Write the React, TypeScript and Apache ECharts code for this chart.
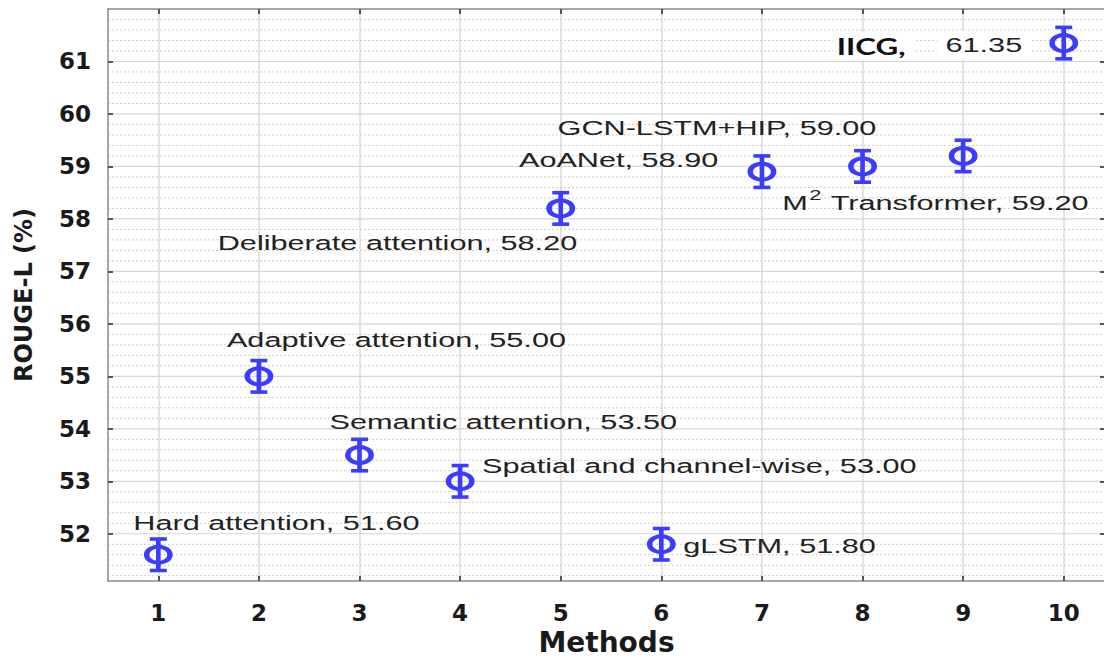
import { useEffect, useRef } from "react";
import * as echarts from "echarts";

// Method index on the x axis and its ROUGE-L score (%)
const methodIds = [1, 2, 3, 4, 5, 6, 7, 8, 9, 10];
const methodNames = [
  "Hard attention",
  "Adaptive attention",
  "Semantic attention",
  "Spatial and channel-wise",
  "Deliberate attention",
  "gLSTM",
  "AoANet",
  "GCN-LSTM+HIP",
  "M² Transformer",
  "IICG",
];
const rougeL = [51.6, 55.0, 53.5, 53.0, 58.2, 51.8, 58.9, 59.0, 59.2, 61.35];
const errorHalf = [0.3, 0.3, 0.3, 0.3, 0.3, 0.3, 0.3, 0.3, 0.3, 0.3];

const xTicks = [1, 2, 3, 4, 5, 6, 7, 8, 9, 10];
const yTicks = [52, 53, 54, 55, 56, 57, 58, 59, 60, 61];

// Label placement relative to each marker, in pixels (text left edge, text middle)
const labelOffsets = [
  [-25, -34],
  [-32, -39],
  [-30, -36],
  [22, -18],
  [-343, 32],
  [22, -1],
  [-243, -14],
  [-305, -41],
  [-181, 44],
  [-231, 3],
];
// The highlighted method shows its score in a separate box
const highlightIndex = 9;
const highlightValueOffset = [-127, 2];

const X_MIN = 0.5;
const X_MAX = 10.41;
const Y_MIN = 51.1;
const Y_MAX = 62;
const STRETCH = 1.46;
const BLUE = "#3c3cff";
const TEXT_FONT = "'Liberation Sans', Arial, sans-serif";
const TICK_FONT = "'DejaVu Sans', sans-serif";

// Horizontal grid lines: solid at each integer, dotted every 0.2 in between
const majorGrid = yTicks.slice();
const minorGrid: number[] = [];
for (let k = Math.ceil(Y_MIN * 5); k < Y_MAX * 5; k++) {
  if (k % 5 !== 0) minorGrid.push(k / 5);
}

// Turn a "²" in a label into a raised rich-text token
function labelText(name: string, value: number) {
  const full = `${name}, ${value.toFixed(2)}`;
  const parts = full.split("²");
  if (parts.length === 1) return `{t|${full}}`;
  return parts.map((p) => `{t|${p}}`).join("{sup|2}");
}

export default function App() {
  const ref = useRef<HTMLDivElement>(null);

  useEffect(() => {
    if (!ref.current) return;
    const chart = echarts.init(ref.current, undefined, { renderer: "svg" });

    const axisLine = { show: true, lineStyle: { color: "#8a8a8a", width: 1.5 } };
    const tickStyle = { color: "#555", width: 2 };

    const gridRender = (dashed: boolean) => (params: any, api: any) => {
      const cs = params.coordSys;
      const py = api.coord([X_MIN, api.value(1)])[1];
      return {
        type: "line",
        silent: true,
        shape: { x1: cs.x, y1: py, x2: cs.x + cs.width, y2: py },
        style: dashed
          ? { stroke: "#cdcdcd", lineWidth: 1, lineDash: [2, 2] }
          : { stroke: "#d6d6d6", lineWidth: 1.2 },
      };
    };

    const pointData = methodIds.map((x, i) => [x, rougeL[i], errorHalf[i], i]);

    const renderPoint = (params: any, api: any) => {
      const x = api.value(0);
      const y = api.value(1);
      const e = api.value(2);
      const i = api.value(3);
      const [cx, cy] = api.coord([x, y]);
      const top = api.coord([x, y + e])[1] - cy;
      const bottom = api.coord([x, y - e])[1] - cy;
      const capHalf = 5.8;
      const glyph = {
        type: "group",
        x: cx,
        y: cy,
        scaleX: STRETCH,
        children: [
          {
            type: "line",
            shape: { x1: 0, y1: top, x2: 0, y2: bottom },
            style: { stroke: BLUE, lineWidth: 3.2 },
          },
          {
            type: "line",
            shape: { x1: -capHalf, y1: top, x2: capHalf, y2: top },
            style: { stroke: BLUE, lineWidth: 3.6 },
          },
          {
            type: "line",
            shape: { x1: -capHalf, y1: bottom, x2: capHalf, y2: bottom },
            style: { stroke: BLUE, lineWidth: 3.6 },
          },
          {
            type: "circle",
            shape: { cx: 0, cy: 0, r: 8 },
            style: { stroke: BLUE, lineWidth: 3.8, fill: "none" },
          },
        ],
      };
      const [dx, dy] = labelOffsets[i];
      const children: any[] = [glyph];
      if (i === highlightIndex) {
        children.push({
          type: "text",
          x: cx + dx,
          y: cy + dy,
          scaleX: 1.36,
          style: {
            text: methodNames[i] + ",",
            fill: "#111",
            fontFamily: "Lato, 'Open Sans', sans-serif",
            fontWeight: "bold",
            fontSize: 23,
            align: "left",
            verticalAlign: "middle",
            backgroundColor: "#ffffff",
            padding: [3, 6, 3, 3],
          },
        });
        children.push({
          type: "text",
          x: cx + highlightValueOffset[0],
          y: cy + highlightValueOffset[1],
          scaleX: STRETCH,
          style: {
            text: rougeL[i].toFixed(2),
            fill: "#222",
            fontFamily: TEXT_FONT,
            fontSize: 21,
            align: "left",
            verticalAlign: "middle",
            backgroundColor: "#ffffff",
            padding: [4, 6, 4, 6],
          },
        });
      } else {
        children.push({
          type: "text",
          x: cx + dx,
          y: cy + dy,
          scaleX: STRETCH,
          style: {
            text: labelText(methodNames[i], rougeL[i]),
            align: "left",
            verticalAlign: "middle",
            rich: {
              t: {
                fill: "#222",
                fontFamily: TEXT_FONT,
                fontSize: 21,
                lineHeight: 26,
                verticalAlign: "bottom",
              },
              sup: {
                fill: "#222",
                fontFamily: TEXT_FONT,
                fontSize: 15,
                lineHeight: 26,
                verticalAlign: "top",
                padding: [0, 1, 0, 1],
              },
            },
          },
        });
      }
      return { type: "group", children };
    };

    chart.setOption({
      animation: false,
      backgroundColor: "#ffffff",
      grid: {
        left: 108,
        right: -1,
        top: 9,
        bottom: 77,
        outerBoundsMode: "none",
      },
      xAxis: [
        {
          type: "value",
          min: X_MIN,
          max: X_MAX,
          position: "bottom",
          name: "Methods",
          nameLocation: "middle",
          nameGap: 45,
          nameTextStyle: {
            fontFamily: TICK_FONT,
            fontWeight: "bold",
            fontSize: 28,
            color: "#1a1a1a",
          },
          axisLine,
          axisTick: { show: true, inside: true, length: 5, lineStyle: tickStyle, customValues: xTicks },
          axisLabel: {
            customValues: xTicks,
            margin: 20,
            fontFamily: TICK_FONT,
            fontWeight: "bold",
            fontSize: 23,
            color: "#1a1a1a",
          },
          splitLine: { show: true, lineStyle: { color: "#e4e4e4", width: 2 } },
        },
        {
          type: "value",
          min: X_MIN,
          max: X_MAX,
          position: "top",
          axisLine,
          axisTick: { show: true, inside: true, length: 5, lineStyle: tickStyle, customValues: xTicks },
          axisLabel: { show: false },
          splitLine: { show: false },
        },
      ],
      yAxis: [
        {
          type: "value",
          min: Y_MIN,
          max: Y_MAX,
          position: "left",
          name: "ROUGE-L (%)",
          nameLocation: "middle",
          nameGap: 72,
          nameTextStyle: {
            fontFamily: TICK_FONT,
            fontWeight: "bold",
            fontSize: 24,
            color: "#1a1a1a",
          },
          axisLine,
          axisTick: { show: true, inside: true, length: 5, lineStyle: tickStyle, customValues: yTicks },
          axisLabel: {
            customValues: yTicks,
            margin: 17,
            fontFamily: TICK_FONT,
            fontWeight: "bold",
            fontSize: 23,
            color: "#1a1a1a",
          },
          splitLine: { show: false },
        },
        {
          type: "value",
          min: Y_MIN,
          max: Y_MAX,
          position: "right",
          axisLine,
          axisTick: { show: true, inside: true, length: 5, lineStyle: tickStyle, customValues: yTicks },
          axisLabel: { show: false },
          splitLine: { show: false },
        },
      ],
      series: [
        {
          type: "custom",
          name: "minor grid",
          silent: true,
          z: 0,
          renderItem: gridRender(true),
          data: minorGrid.map((v) => [X_MIN, v]),
        },
        {
          type: "custom",
          name: "major grid",
          silent: true,
          z: 0,
          renderItem: gridRender(false),
          data: majorGrid.map((v) => [X_MIN, v]),
        },
        {
          type: "custom",
          name: "ROUGE-L",
          z: 5,
          clip: false,
          renderItem: renderPoint,
          encode: { x: 0, y: 1 },
          data: pointData,
        },
      ],
    });

    return () => chart.dispose();
  }, []);

  return (
    <div
      ref={ref}
      style={{ position: "fixed", left: 0, top: 0, width: 1104, height: 658 }}
    />
  );
}
